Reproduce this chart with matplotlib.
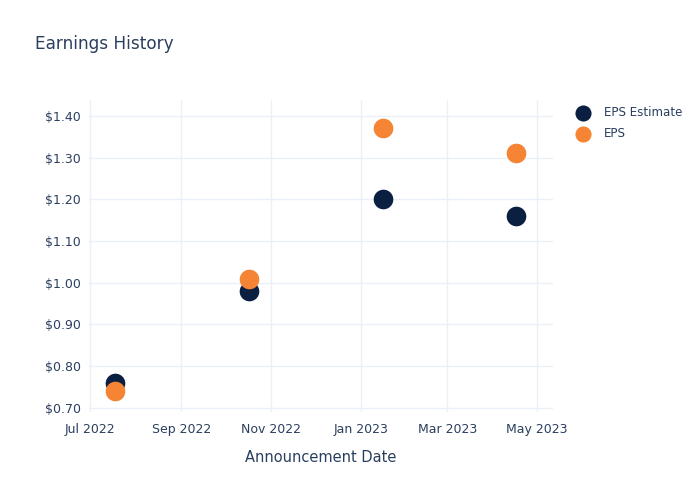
import matplotlib
matplotlib.use("Agg")
import matplotlib.pyplot as plt
import matplotlib.dates as mdates
from matplotlib.ticker import FuncFormatter
import pandas as pd

dates = ["2022-07-18", "2022-10-17", "2023-01-16", "2023-04-17"]
eps_estimate = [0.76, 0.98, 1.20, 1.16]
eps_actual = [0.74, 1.01, 1.37, 1.31]
x_ticks = ["2022-07-01", "2022-09-01", "2022-11-01", "2023-01-01", "2023-03-01", "2023-05-01"]
y_ticks = [0.70, 0.80, 0.90, 1.00, 1.10, 1.20, 1.30, 1.40]

TEXT = "#2a3f5f"
GRID = "#ebf0f8"
NAVY = "#0b1f41"
ORANGE = "#f58434"

plt.rcParams["font.family"] = ["DejaVu Sans"]
fig = plt.figure(figsize=(7, 5), dpi=100)
ax = fig.add_axes([0.127, 0.176, 0.663, 0.624])

d = pd.to_datetime(dates)
ax.scatter(d, eps_estimate, s=200, color=NAVY, label="EPS Estimate", zorder=3, linewidths=0)
ax.scatter(d, eps_actual, s=200, color=ORANGE, label="EPS", zorder=4, linewidths=0)

ax.set_xlim(pd.Timestamp("2022-06-30"), pd.Timestamp("2023-05-12"))
ax.set_ylim(0.69, 1.438)
ax.set_xticks(pd.to_datetime(x_ticks))
ax.xaxis.set_major_formatter(mdates.DateFormatter("%b %Y"))
ax.set_yticks(y_ticks)
ax.yaxis.set_major_formatter(FuncFormatter(lambda v, p: f"${v:.2f}"))

ax.grid(True, color=GRID, linewidth=1)
ax.set_axisbelow(True)
for s in ax.spines.values():
    s.set_visible(False)
ax.tick_params(axis="both", length=0, colors=TEXT, labelsize=9)
ax.tick_params(axis="x", pad=8)
ax.tick_params(axis="y", pad=6)

ax.set_xlabel("Announcement Date", color=TEXT, fontsize=10.5, labelpad=10)
fig.text(0.05, 0.912, "Earnings History", color=TEXT, fontsize=12.2, va="center", ha="left")

leg = ax.legend(loc="upper left", bbox_to_anchor=(1.028, 0.995), frameon=False,
                fontsize=8.6, labelcolor=TEXT, handletextpad=0.75, borderaxespad=0.0,
                labelspacing=0.62, markerscale=0.82)

fig.savefig("out.png", dpi=100, facecolor="white")
